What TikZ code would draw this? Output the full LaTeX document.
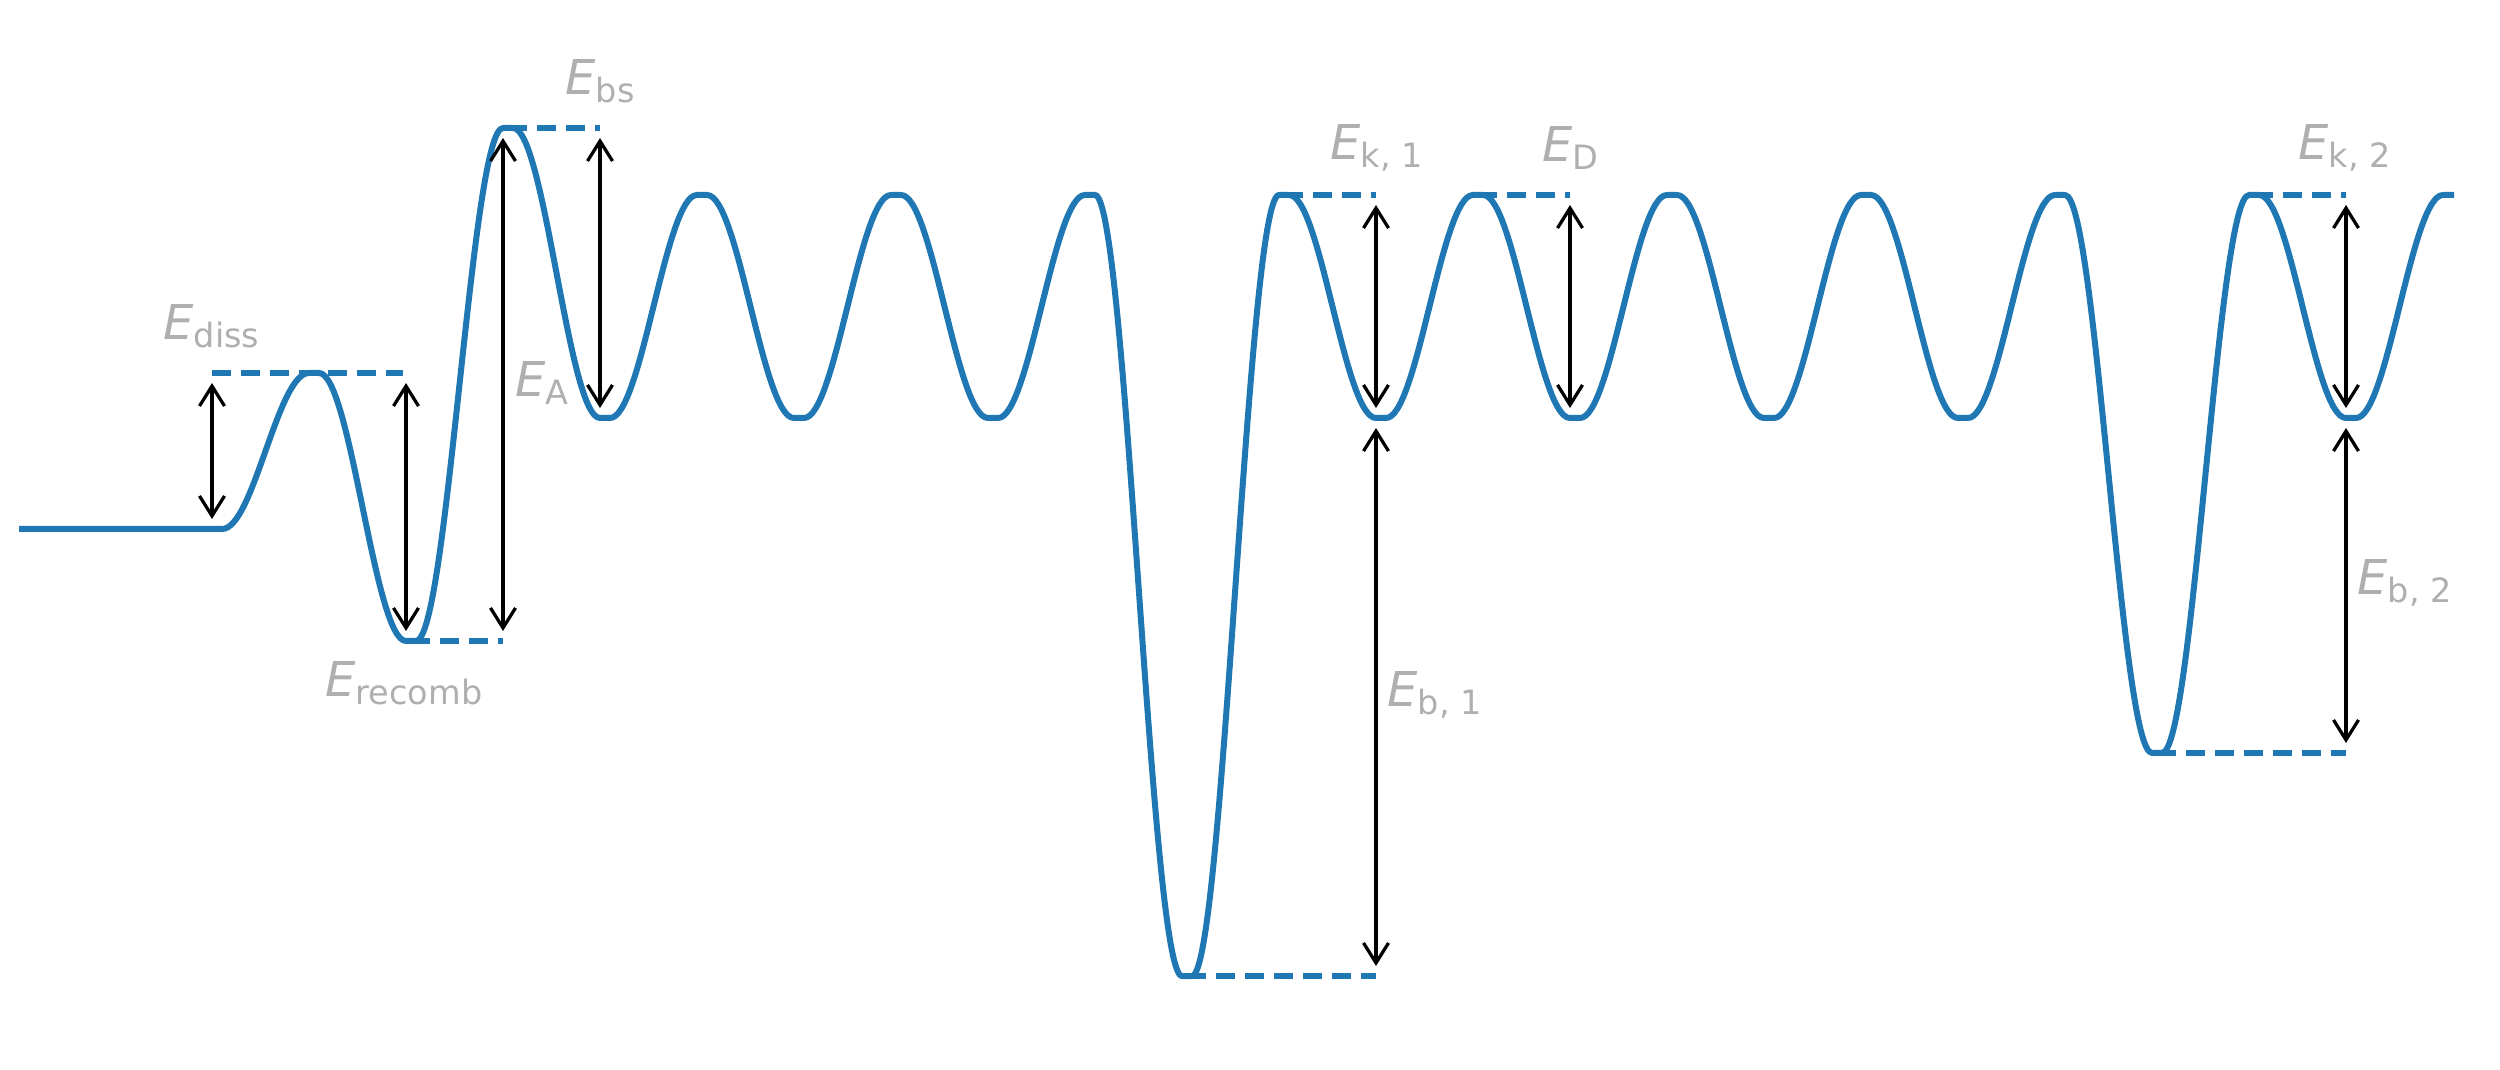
\documentclass[tikz,border=0pt]{standalone}
\usepackage{fontspec}
\setmainfont{DejaVu Sans}
\usetikzlibrary{arrows.meta}
\definecolor{cblue}{HTML}{1F77B4}
\definecolor{lblgray}{HTML}{AFAFAF}
\newcommand{\elabel}[1]{\textit{E}\raisebox{-3.2pt}{\fontsize{13.4pt}{14pt}\selectfont #1}}
\begin{document}
\begin{tikzpicture}[x=0.4pt,y=-0.4pt,
  curve/.style={cblue, line width=2.4pt, line join=round},
  level/.style={cblue, line width=2.4pt, dash pattern=on 7.6pt off 4pt},
  dimarrow/.style={black, line width=1.3pt,
    {Straight Barb[length=8pt,width=10pt]}-{Straight Barb[length=8pt,width=10pt]},
    shorten <=4pt, shorten >=4pt},
  lbl/.style={text=lblgray, inner sep=0pt, anchor=base west,
    font=\fontsize{19.2pt}{23pt}\selectfont}]
\useasboundingbox (0,0) rectangle (2500,1070);

% energy curve
\draw[curve] (19,529)
  foreach \ya/\yb [count=\i from 0] in {529/373,373/641,641/128,128/418,418/195,195/418,418/195,195/418,418/195,195/976,976/195,195/418,418/195,195/418,418/195,195/418,418/195,195/418,418/195,195/753,753/195,195/418,418/195}
  { -- ({217+97*\i+5},\ya) cos ({217+97*\i+48.5},{(\ya+\yb)/2}) sin ({217+97*(\i+1)-5},\yb) }
  -- (2454,195);

% level coordinates
\coordinate (dissL) at (212,373);
\coordinate (dissR) at (403,373);
\coordinate (flat) at (212,529);
\coordinate (recL) at (411,641);
\coordinate (recR) at (503,641);
\coordinate (recT) at (406,373);
\coordinate (recB) at (406,641);
\coordinate (bsL) at (508,128);
\coordinate (bsR) at (600,128);
\coordinate (eaT) at (503,128);
\coordinate (eaB) at (503,641);
\coordinate (bsB) at (600,418);
\coordinate (k1L) at (1284,195);
\coordinate (k1R) at (1376,195);
\coordinate (k1B) at (1376,418);
\coordinate (b1L) at (1187,976);
\coordinate (b1R) at (1376,976);
\coordinate (dL) at (1478,195);
\coordinate (dR) at (1570,195);
\coordinate (dB) at (1570,418);
\coordinate (k2L) at (2254,195);
\coordinate (k2R) at (2346,195);
\coordinate (k2B) at (2346,418);
\coordinate (b2L) at (2157,753);
\coordinate (b2R) at (2346,753);

% dashed levels
\draw[level] (dissL) -- (dissR);
\draw[level] (recL) -- (recR);
\draw[level] (bsL) -- (bsR);
\draw[level] (k1L) -- (k1R);
\draw[level] (dL) -- (dR);
\draw[level] (b1L) -- (b1R);
\draw[level] (k2L) -- (k2R);
\draw[level] (b2L) -- (b2R);

% arrows
\draw[dimarrow] (dissL) -- (flat);
\draw[dimarrow] (recT) -- (recB);
\draw[dimarrow] (eaT) -- (eaB);
\draw[dimarrow] (bsR) -- (bsB);
\draw[dimarrow] (k1R) -- (k1B);
\draw[dimarrow] (k1B) -- (b1R);
\draw[dimarrow] (dR) -- (dB);
\draw[dimarrow] (k2R) -- (k2B);
\draw[dimarrow] (k2B) -- (b2R);

% labels
\node[lbl] (Ldiss) at (163,340) {\elabel{diss}};
\node[lbl] (Lrec) at (325,697) {\elabel{recomb}};
\node[lbl] (LA) at (515,397) {\elabel{A}};
\node[lbl] (Lbs) at (565,95) {\elabel{bs}};
\node[lbl] (Lk1) at (1330,160) {\elabel{k, 1}};
\node[lbl] (LD) at (1542,162) {\elabel{D}};
\node[lbl] (Lb1) at (1387,707) {\elabel{b, 1}};
\node[lbl] (Lk2) at (2298,160) {\elabel{k, 2}};
\node[lbl] (Lb2) at (2357,595) {\elabel{b, 2}};
\end{tikzpicture}
\end{document}
